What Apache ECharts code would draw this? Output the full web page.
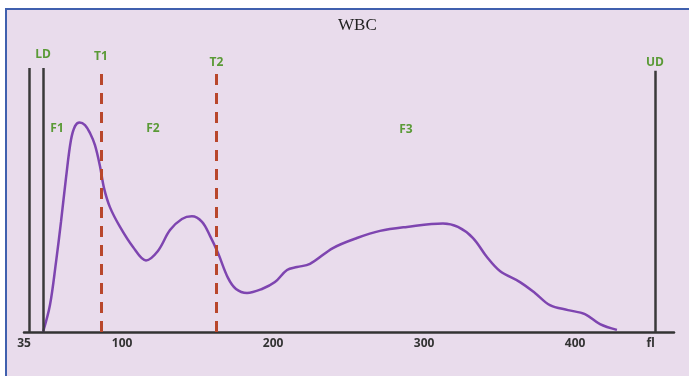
<!DOCTYPE html>
<html><head><meta charset="utf-8">
<script src="https://cdn.jsdelivr.net/npm/echarts@6/dist/echarts.min.js"></script>
<style>html,body{margin:0;padding:0;background:#fff}#c{width:689px;height:376px}</style>
</head><body><div id="c"></div>
<script>
// ---- data ----
const chartTitle = 'WBC';
const curveX = [47.6, 52.2, 56.2, 59.5, 62.8, 66.1, 68.8, 71.8, 75.4, 78.7, 82.0, 85.3, 88.0, 91.9, 98.6, 107.2, 115.8, 123.7, 131.7, 139.6, 146.2, 152.9, 158.2, 163.5, 170.1, 175.4, 182.7, 192.6, 201.2, 209.2, 215.8, 224.4, 239.6, 255.5, 270.8, 288.6, 312.5, 322.4, 332.4, 341.6, 350.2, 363.5, 373.4, 383.3, 395.3, 406.5, 416.5, 427.7];
const curveY = [0, 10.2, 26.5, 41.7, 58.3, 72.7, 78.0, 79.4, 78.4, 75.4, 70.8, 62.9, 54.5, 47.3, 39.8, 32.2, 27.1, 30.7, 38.6, 42.8, 43.8, 41.7, 36.4, 29.9, 20.5, 16.3, 14.8, 16.3, 18.9, 23.5, 24.6, 25.8, 31.8, 35.6, 38.3, 39.8, 41.1, 39.8, 35.6, 28.4, 23.1, 18.9, 14.8, 10.2, 8.3, 6.8, 3.0, 0.8];
const tickValues = [35, 100, 200, 300, 400, 450];
const tickLabels = ['35', '100', '200', '300', '400', 'fl'];
const solidLineX = [38.3, 47.6, 452.9];
const solidLineNames = ['', 'LD', 'UD'];
const thresholdX = [86, 162.5];
const thresholdNames = ['T1', 'T2'];
const regionNames = ['F1', 'F2', 'F3'];
const regionX = [56.9, 120.4, 288];
const regionY = [77, 77, 76.5];

// ---- styles ----
const green = '#5a9a36';
const labelFont = { color: green, fontFamily: 'Open Sans', fontWeight: 'bold', fontSize: 12 };
const solidDist = [0, 7, 2];
const threshDist = [8, 2];

const markData = [];
solidLineX.forEach((x, i) => {
  markData.push([
    { coord: [x, 0], lineStyle: { color: '#3a3a3a', width: 2.5, type: 'solid' },
      label: Object.assign({ show: !!solidLineNames[i], formatter: solidLineNames[i], position: 'end', distance: solidDist[i] }, labelFont) },
    { coord: [x, i === 2 ? 99 : 100] }
  ]);
});
thresholdX.forEach((x, i) => {
  markData.push([
    { coord: [x, 0], lineStyle: { color: '#b9472c', width: 3, type: [11, 8] },
      label: Object.assign({ show: true, formatter: thresholdNames[i], position: 'end', distance: threshDist[i] }, labelFont) },
    { coord: [x, 99] }
  ]);
});

const chart = echarts.init(document.getElementById('c'), null, { renderer: 'canvas' });
chart.setOption({
  animation: false,
  backgroundColor: '#e9dcec',
  title: {
    text: chartTitle, left: 333, top: 12,
    textStyle: { fontFamily: 'Liberation Serif', fontWeight: 'normal', fontSize: 17, color: '#222' }
  },
  graphic: [
    { type: 'rect', shape: { x: 0, y: 0, width: 689, height: 8 }, style: { fill: '#ffffff' }, silent: true },
    { type: 'rect', shape: { x: 0, y: 0, width: 5, height: 376 }, style: { fill: '#ffffff' }, silent: true },
    { type: 'line', shape: { x1: 5, y1: 9, x2: 689, y2: 9 }, style: { stroke: '#4060ae', lineWidth: 2 }, silent: true },
    { type: 'line', shape: { x1: 6, y1: 9, x2: 6, y2: 376 }, style: { stroke: '#4060ae', lineWidth: 2 }, silent: true }
  ],
  grid: { left: 24, right: 15, top: 68, bottom: 44 },
  xAxis: {
    type: 'value', min: 35, max: 465.5,
    splitLine: { show: false },
    axisTick: { show: false },
    axisLine: { show: true, lineStyle: { color: '#333', width: 2.5 } },
    axisLabel: {
      customValues: tickValues,
      formatter: v => { const i = tickValues.indexOf(v); return i >= 0 ? tickLabels[i] : ''; },
      color: '#333', fontFamily: 'Open Sans', fontWeight: 'bold', fontSize: 12, margin: 6
    }
  },
  yAxis: { type: 'value', min: 0, max: 100, show: false },
  series: [
    {
      type: 'line', smooth: 0.35, symbol: 'none',
      data: curveX.map((x, i) => [x, curveY[i]]),
      lineStyle: { color: '#7e45b0', width: 2.5 },
      z: 3,
      markLine: { silent: true, symbol: 'none', animation: false, data: markData }
    },
    {
      type: 'scatter', symbolSize: 0, silent: true,
      itemStyle: { opacity: 1 },
      data: regionX.map((x, i) => ({ value: [x, regionY[i]], name: regionNames[i] })),
      label: Object.assign({ show: true, position: 'inside', formatter: p => p.name }, labelFont)
    }
  ]
});
</script>
</body></html>
